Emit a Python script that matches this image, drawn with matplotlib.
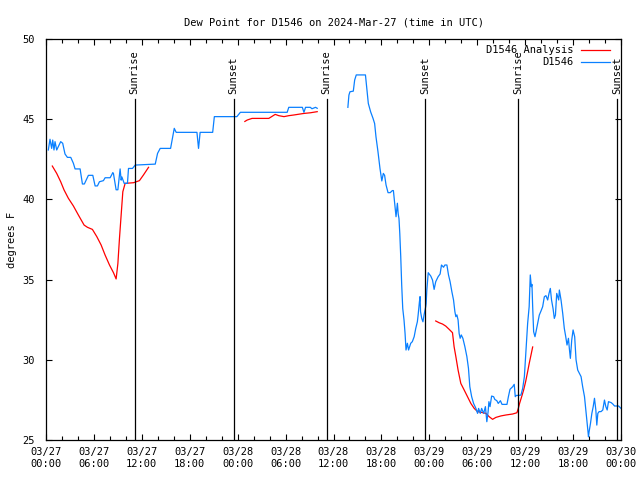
import numpy as np
import matplotlib
matplotlib.use("Agg")
import matplotlib.pyplot as plt

plt.rcParams['font.family'] = ['DejaVu Sans Mono', 'DejaVu Sans']

# hours since 03/27 00:00 UTC
tick_labels = ['03/27\n00:00', '03/27\n06:00', '03/27\n12:00', '03/27\n18:00',
               '03/28\n00:00', '03/28\n06:00', '03/28\n12:00', '03/28\n18:00',
               '03/29\n00:00', '03/29\n06:00', '03/29\n12:00', '03/29\n18:00',
               '03/30\n00:00']

sun_hours = [11.1, 23.5, 35.15, 47.45, 59.1, 71.55]
sun_labels = ['Sunrise', 'Sunset', 'Sunrise', 'Sunset', 'Sunrise', 'Sunset']

obs_hours = [0.29, 0.5, 0.71, 0.84, 1.0, 1.13, 1.34, 1.84, 2.09, 2.38, 2.68, 3.1, 3.43, 3.64,
             4.27, 4.56, 4.8, 5.31, 5.86, 6.15, 6.44, 6.69, 7.19, 7.4, 8.03, 8.37, 8.45, 8.78,
             9.0, 9.28, 9.41, 9.5, 9.79, 10.2, 10.33, 10.83, 11.17, 13.68, 13.97, 14.3, 15.6,
             16.06, 16.3, 18.9, 19.1, 19.3, 20.87, 21.08, 23.9, 24.34, 30.2, 30.4, 32.1, 32.3,
             32.5, 33.1, 33.3, 33.75, 33.96,
             35.0,
             37.8, 37.93, 38.06, 38.48, 38.65, 38.85, 40.0, 40.24, 40.36, 40.65, 40.95, 41.15,
             41.32, 41.57, 41.82, 42.0, 42.05, 42.24, 42.4, 42.58, 42.83, 43.1, 43.37, 43.5,
             43.7, 43.83, 44.0, 44.1, 44.2, 44.3, 44.42, 44.54, 44.67, 44.83, 44.96, 45.08,
             45.25, 45.4, 45.67, 45.87, 46.1, 46.3, 46.5, 46.6, 46.76, 46.84, 46.9, 47.05,
             47.2, 47.34, 47.55, 47.6, 47.68, 47.77, 47.86, 48.18, 48.4, 48.6, 48.8, 49.1,
             49.35, 49.52, 49.78, 49.94, 50.2, 50.4, 50.6, 50.82, 51.03, 51.2, 51.32, 51.45,
             51.6, 51.73, 51.86, 52.0, 52.2, 52.45, 52.7, 52.9, 53.07, 53.3, 53.54, 53.83,
             54.04, 54.17, 54.38, 54.55, 54.8, 55.02, 55.2, 55.36, 55.46, 55.6, 55.8, 56.05,
             56.2, 56.45, 56.63, 56.9, 57.1, 57.72, 57.9, 58.1, 58.43, 58.63, 58.76, 58.9,
             59.2, 59.47, 59.69, 59.9, 60.1, 60.31, 60.5, 60.64, 60.77, 60.85, 60.94, 61.06,
             61.23, 61.36, 61.56, 61.77, 61.98, 62.19, 62.4, 62.6, 62.82, 62.98, 63.15, 63.3,
             63.49, 63.65, 63.79, 63.95, 64.2, 64.28, 64.49, 64.7, 64.9, 65.08, 65.24, 65.42,
             65.53, 65.66, 65.83, 66.0, 66.2, 66.37, 66.58, 66.8, 67.0, 67.2, 67.43, 67.6,
             67.76, 67.93, 68.0, 68.18, 68.35, 68.52, 68.68, 68.85, 68.97, 69.1, 69.26, 69.5,
             69.72, 69.93, 70.1, 70.27, 70.43, 70.77, 70.98, 71.19, 71.7, 72.0]
obs_vals = [43.08, 43.75, 43.18, 43.7, 43.08, 43.6, 43.08, 43.6, 43.5, 42.83, 42.62, 42.62,
            42.25, 41.9, 41.9, 40.96, 40.96, 41.5, 41.5, 40.84, 40.84, 41.1, 41.17, 41.35,
            41.35, 41.67, 41.6, 40.6, 40.6, 41.9, 41.2, 41.4, 41.0, 41.0, 41.93, 41.93, 42.14,
            42.2, 42.87, 43.18, 43.18, 44.43, 44.18, 44.18, 43.18, 44.18, 44.18, 45.16, 45.16,
            45.43, 45.43, 45.74, 45.74, 45.43, 45.74, 45.74, 45.65, 45.74, 45.68,
            np.nan,
            45.74, 46.5, 46.71, 46.75, 47.44, 47.76, 47.76, 46.6, 45.98, 45.46, 45.05, 44.73,
            43.9, 42.97, 41.93, 41.3, 41.15, 41.62, 41.5, 40.9, 40.42, 40.42, 40.55, 40.55,
            39.55, 38.92, 39.76, 39.1, 38.8, 37.88, 36.43, 34.66, 33.2, 32.48, 31.65, 30.61,
            31.03, 30.61, 31.03, 31.13, 31.44, 31.96, 32.37, 32.8, 33.62, 33.94, 33.0, 32.58,
            32.37, 32.8, 33.32, 33.5, 34.3, 34.9, 35.43, 35.22, 34.97, 34.39, 34.87, 35.18,
            35.35, 35.91, 35.77, 35.91, 35.91, 35.29, 34.87, 34.25, 33.73, 33.0, 32.69, 32.8,
            32.48, 31.65, 31.34, 31.55, 31.34, 30.82, 30.2, 29.47, 28.32, 27.7, 27.28, 26.97,
            26.66, 26.97, 26.66, 26.97, 26.66, 27.08, 26.14, 26.77, 27.39, 27.08, 27.74, 27.7,
            27.53, 27.45, 27.28, 27.45, 27.22, 27.22, 27.7, 28.16, 28.32, 28.47, 27.7, 27.78,
            27.78, 27.8, 28.22, 28.95, 30.61, 32.27, 33.31, 35.29, 34.56, 34.7, 33.31, 31.75,
            31.44, 31.75, 32.27, 32.79, 33.04, 33.31, 33.93, 34.0, 33.73, 34.13, 34.45, 33.73,
            33.2, 32.58, 32.79, 34.14, 33.73, 34.35, 33.73, 32.9, 31.96, 31.44, 30.92, 31.34,
            30.71, 30.09, 31.23, 31.86, 31.44, 30.0, 29.36, 29.15, 28.95, 28.32, 27.7, 26.87,
            26.04, 25.2, 25.5, 26.04, 26.66, 27.08, 27.6, 26.87, 25.93, 26.66, 26.77, 26.77,
            26.87, 27.49, 27.08, 26.87, 27.39, 27.33, 27.24, 27.12, 27.12, 26.97]

ana_hours = [0.79, 1.34, 1.84, 2.26, 2.8, 3.43, 4.05, 4.77, 5.19, 5.81, 6.36, 6.9, 7.4, 7.95,
             8.45, 8.78, 9.0, 9.2, 9.41, 9.62, 9.91, 10.96, 11.7, 12.2, 12.84,
             18.0,
             24.9, 25.2, 25.8, 27.9, 28.7, 29.15, 29.8, 30.4, 31.0, 32.3, 33.1, 33.96,
             40.0,
             48.8, 49.23, 49.65, 50.06, 50.48, 50.9, 51.1, 51.32, 51.6, 51.94, 52.36, 52.78,
             53.2, 53.62, 54.04, 54.46, 55.08, 55.5, 55.92, 56.34, 56.96, 57.6, 58.43, 58.97,
             59.14, 59.3, 59.56, 59.81, 60.06, 60.31, 60.51, 60.73, 60.94]
ana_vals = [42.08, 41.62, 41.1, 40.59, 40.07, 39.59, 39.03, 38.4, 38.26, 38.13, 37.68, 37.16,
            36.53, 35.91, 35.43, 35.04, 36.0, 37.57, 39.03, 40.48, 41.0, 41.04, 41.17, 41.52,
            42.0,
            np.nan,
            44.86, 44.95, 45.05, 45.05, 45.3, 45.22, 45.16, 45.22, 45.26, 45.36, 45.4, 45.47,
            np.nan,
            32.42, 32.31, 32.23, 32.1, 31.9, 31.69, 30.82, 30.2, 29.36, 28.53, 28.12, 27.7,
            27.28, 26.97, 26.77, 26.73, 26.66, 26.45, 26.29, 26.41, 26.5, 26.56, 26.62, 26.7,
            26.97, 27.28, 27.7, 28.12, 28.64, 29.26, 29.78, 30.3, 30.8]

RED = '#ff0000'
BLUE = '#0a80ff'

fig = plt.figure(figsize=(6.4, 4.8), dpi=100)
ax = fig.add_axes([46/640, 40/480, 575/640, 401/480])

ax.plot(ana_hours, ana_vals, color=RED, lw=0.9)
ax.plot(obs_hours, obs_vals, color=BLUE, lw=0.9)

for h, lab in zip(sun_hours, sun_labels):
    ax.plot([h, h], [25, 46.25], color='black', lw=0.9)
    ax.text(h, 46.55, lab, rotation=90, ha='center', va='bottom', fontsize=7.5)

ax.set_xlim(0, 72)
ax.set_ylim(25, 50)
ax.set_xticks(np.arange(0, 73, 6))
ax.set_xticklabels(tick_labels)
ax.set_xticks(np.arange(0, 73, 2), minor=True)
ax.set_yticks(np.arange(25, 51, 5))
ax.tick_params(which='both', direction='in', top=True, right=True, labelsize=7.5,
               width=0.8)
ax.tick_params(which='major', length=4.5)
ax.tick_params(which='minor', length=3)
ax.tick_params(axis='x', pad=5)
ax.tick_params(axis='y', pad=8)
for s in ax.spines.values():
    s.set_linewidth(0.9)

ax.set_title('Dew Point for D1546 on 2024-Mar-27 (time in UTC)', fontsize=7.5, pad=10)
ax.set_ylabel('degrees F', fontsize=7.5, labelpad=4)

# legend (gnuplot style: right-aligned text then sample line)
ax.text(0.918, 0.9726, 'D1546 Analysis', transform=ax.transAxes, ha='right', va='center',
        fontsize=7.5)
ax.plot([0.930, 0.981], [0.9726, 0.9726], transform=ax.transAxes, color=RED, lw=0.9)
ax.text(0.918, 0.9426, 'D1546', transform=ax.transAxes, ha='right', va='center',
        fontsize=7.5)
ax.plot([0.930, 0.981], [0.9426, 0.9426], transform=ax.transAxes, color=BLUE, lw=0.9)

fig.savefig('out.png', dpi=100)
